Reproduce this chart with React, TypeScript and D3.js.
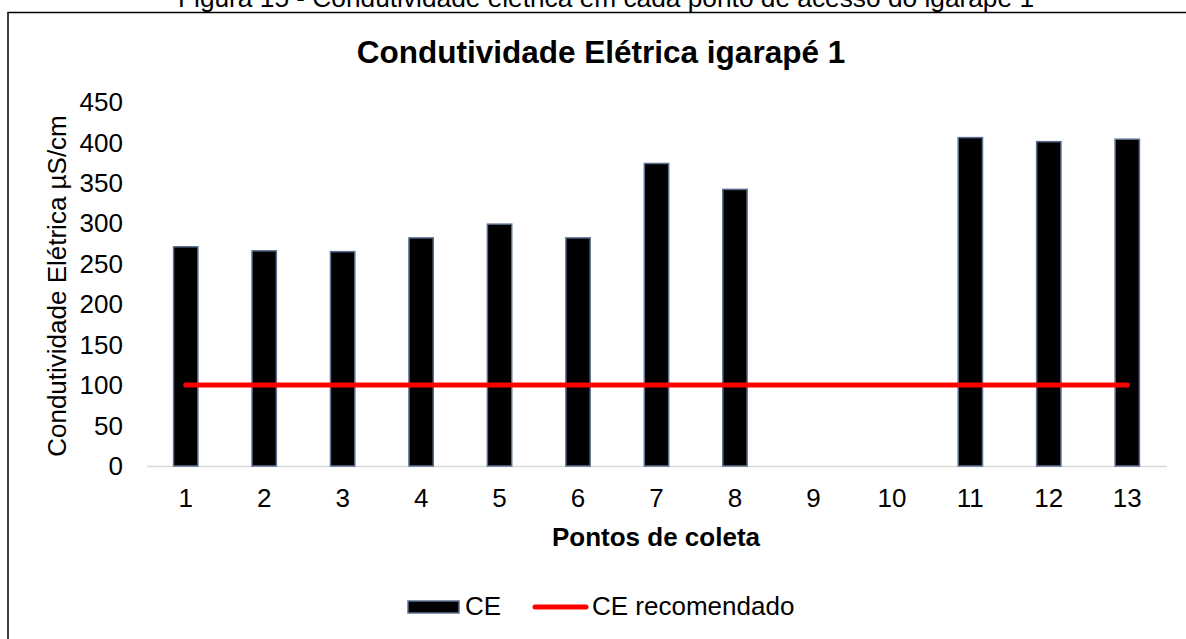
import React from "react";
import * as d3 from "d3";

const categories = ["1", "2", "3", "4", "5", "6", "7", "8", "9", "10", "11", "12", "13"];
const ceValues: (number | null)[] = [271, 266, 265, 282, 299, 282, 374, 342, null, null, 406, 401, 404];
const ceRecommended = [100, 100, 100, 100, 100, 100, 100, 100, 100, 100, 100, 100, 100];
const yTicks = [0, 50, 100, 150, 200, 250, 300, 350, 400, 450];

const W = 1186;
const H = 639;
const FONT = "Arial, 'Liberation Sans', sans-serif";

export default function App() {
  const x = d3.scaleBand<string>().domain(categories).range([146.5, 1166.5]).paddingInner(0.69).paddingOuter(0.345);
  const y = d3.scaleLinear().domain([0, 450]).range([466, 102]);
  const bw = x.bandwidth();
  const cx = (c: string) => (x(c) as number) + bw / 2;

  const line = d3
    .line<number>()
    .x((_, i) => cx(categories[i]))
    .y((d) => y(d));

  return (
    <svg
      width={W}
      height={H}
      style={{ position: "absolute", left: 0, top: 0, display: "block", background: "#fff" }}
    >
      <rect x={0} y={0} width={W} height={H} fill="#fff" />
      <text
        x={606}
        y={7}
        textAnchor="middle"
        fontFamily={FONT}
        fontSize={26}
        fill="#000"
        textLength={856}
        lengthAdjust="spacingAndGlyphs"
      >
        Figura 15 - Condutividade elétrica em cada ponto de acesso do igarapé 1
      </text>
      <rect x={8} y={12.5} width={1300} height={800} fill="none" stroke="#000" strokeWidth={1.5} />

      <text x={601} y={63} textAnchor="middle" fontFamily={FONT} fontSize={31.5} fontWeight="bold" fill="#000">
        Condutividade Elétrica igarapé 1
      </text>

      {yTicks.map((t) => (
        <text
          key={t}
          x={123}
          y={y(t)}
          dy="0.35em"
          textAnchor="end"
          fontFamily={FONT}
          fontSize={26}
          fill="#000"
        >
          {t}
        </text>
      ))}

      <text
        transform={`translate(66, ${(460 + 112) / 2}) rotate(-90)`}
        textAnchor="middle"
        fontFamily={FONT}
        fontSize={26}
        fill="#000"
      >
        Condutividade Elétrica µS/cm
      </text>

      <line x1={147} x2={1167} y1={466.5} y2={466.5} stroke="#d9d9d9" strokeWidth={1.5} />

      {categories.map((c, i) =>
        ceValues[i] == null ? null : (
          <rect
            key={c}
            x={x(c) as number}
            y={y(ceValues[i] as number)}
            width={bw}
            height={y(0) - y(ceValues[i] as number)}
            fill="#000"
            stroke="#5b7090"
            strokeWidth={1.5}
          />
        )
      )}

      <path d={line(ceRecommended) || ""} fill="none" stroke="#ff0000" strokeWidth={5} strokeLinecap="round" />

      {categories.map((c) => (
        <text key={c} x={cx(c)} y={507} textAnchor="middle" fontFamily={FONT} fontSize={26} fill="#000">
          {c}
        </text>
      ))}

      <text x={656} y={546} textAnchor="middle" fontFamily={FONT} fontSize={26} fontWeight="bold" fill="#000">
        Pontos de coleta
      </text>

      <rect x={408} y={601} width={51} height={12} fill="#000" stroke="#5b7090" strokeWidth={1.5} />
      <text x={465} y={615} fontFamily={FONT} fontSize={26} fill="#000">
        CE
      </text>
      <line x1={535} x2={586} y1={607} y2={607} stroke="#ff0000" strokeWidth={5} strokeLinecap="round" />
      <text x={592} y={615} fontFamily={FONT} fontSize={26} fill="#000">
        CE recomendado
      </text>
    </svg>
  );
}
